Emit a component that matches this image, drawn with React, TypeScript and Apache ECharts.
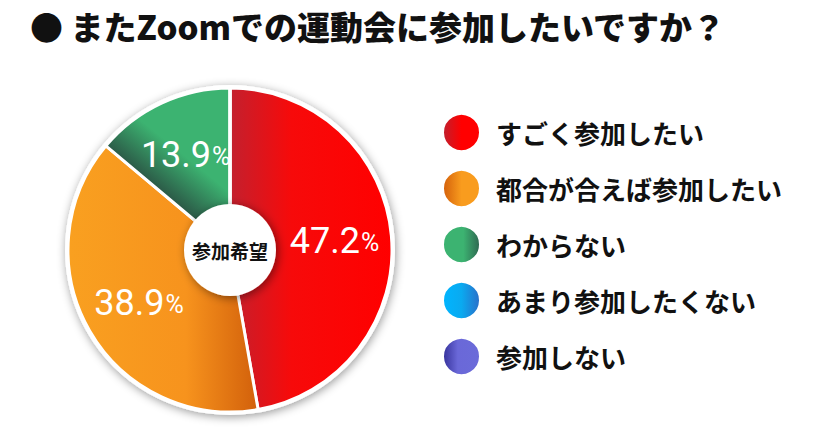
import { useEffect, useRef } from "react";
import * as echarts from "echarts";

const TITLE = "● またZoomでの運動会に参加したいですか？";
const CENTER_LABEL = "参加希望";
const categories = [
  "すごく参加したい",
  "都合が合えば参加したい",
  "わからない",
  "あまり参加したくない",
  "参加しない",
];
// 回答数（17 / 14 / 5 / 0 / 0 → 47.2% / 38.9% / 13.9%）
const counts = [17, 14, 5, 0, 0];

const JP = '"Noto Sans CJK JP", "Noto Sans", sans-serif';

function lin(x: number, y: number, x2: number, y2: number, stops: [number, string][]) {
  return new echarts.graphic.LinearGradient(
    x,
    y,
    x2,
    y2,
    stops.map(([offset, color]) => ({ offset, color }))
  );
}

// 扇形用グラデーション
const sliceColors = [
  lin(0, 0, 1, 0, [
    [0, "#c3202e"],
    [0.38, "#f70a0a"],
    [1, "#ff0000"],
  ]),
  lin(0, 0, 1, 0, [
    [0, "#f9a020"],
    [0.62, "#f7931d"],
    [1, "#d2600b"],
  ]),
  {
    type: "linear",
    x: 154,
    y: 184,
    x2: 180,
    y2: 152,
    global: true,
    colorStops: [
      { offset: 0, color: "#2c5c48" },
      { offset: 1, color: "#3cb371" },
    ],
  },
  lin(0, 0, 1, 0, [
    [0, "#00b5ff"],
    [1, "#2a6ec8"],
  ]),
  lin(0, 0, 1, 0, [
    [0, "#35319a"],
    [1, "#6b6bd9"],
  ]),
];

// 凡例アイコン用グラデーション
const legendColors = [
  lin(0, 0, 1, 0, [
    [0, "#c0202e"],
    [0.5, "#ff0000"],
    [1, "#ff0000"],
  ]),
  lin(0, 0, 1, 0, [
    [0, "#d35f0a"],
    [0.5, "#f99c1e"],
    [1, "#f99c1e"],
  ]),
  lin(0, 0, 1, 0, [
    [0, "#3cb371"],
    [0.55, "#3cb371"],
    [1, "#2e6650"],
  ]),
  lin(0, 0, 1, 0, [
    [0, "#00b5ff"],
    [0.5, "#0aaaf0"],
    [1, "#2a6ec8"],
  ]),
  lin(0, 0, 1, 0, [
    [0, "#35319a"],
    [0.4, "#6a68d8"],
    [1, "#6b6bd9"],
  ]),
];

function buildOption(): echarts.EChartsOption {
  const center = [230, 250];
  return {
    animation: false,
    backgroundColor: "#ffffff",
    title: {
      text: TITLE,
      left: 25,
      top: 4,
      textStyle: {
        fontFamily: JP,
        fontSize: 33,
        fontWeight: 900,
        color: "#111111",
      },
    },
    legend: {
      orient: "vertical",
      left: 437,
      top: 108,
      icon: "circle",
      itemWidth: 37,
      itemHeight: 37,
      itemGap: 17,
      selectedMode: false,
      textStyle: {
        fontFamily: JP,
        fontSize: 26,
        fontWeight: "bold",
        color: "#111111",
        padding: [0, 0, 0, 11],
      },
      data: categories.map((name, i) => ({
        name,
        itemStyle: { color: legendColors[i] as any },
      })),
    },
    series: [
      {
        // 外周の影
        type: "pie",
        silent: true,
        center,
        radius: 165,
        label: { show: false },
        labelLine: { show: false },
        itemStyle: {
          color: "#ffffff",
          shadowBlur: 10,
          shadowColor: "rgba(0,0,0,0.4)",
          shadowOffsetX: 1,
          shadowOffsetY: 2,
        },
        data: [{ name: "", value: 1 }],
        z: 1,
      },
      {
        type: "pie",
        center,
        radius: [42, 162],
        startAngle: 90,
        clockwise: true,
        percentPrecision: 1,
        avoidLabelOverlap: false,
        itemStyle: { borderColor: "#ffffff", borderWidth: 3 },
        label: {
          position: "inside",
          formatter: (p: any) =>
            p.value ? `{n|${p.percent.toFixed(1)}}{u|%}` : "",
          rich: {
            n: {
              fontFamily: "Roboto, sans-serif",
              fontSize: 36,
              fontWeight: 400,
              color: "#ffffff",
            },
            u: {
              fontFamily: "Roboto, sans-serif",
              fontSize: 25,
              fontWeight: 400,
              color: "#ffffff",
              padding: [4, 0, 0, 1],
            },
          },
        },
        labelLine: { show: false },
        emphasis: { disabled: true },
        data: categories.map((name, i) => ({
          name,
          value: counts[i],
          itemStyle: { color: sliceColors[i] as any },
        })),
        z: 2,
      },
      {
        // 中央の白丸
        type: "pie",
        silent: true,
        center,
        radius: 46,
        label: {
          show: true,
          position: "center",
          formatter: CENTER_LABEL,
          fontFamily: JP,
          fontSize: 19,
          fontWeight: "bold",
          color: "#111111",
        },
        labelLine: { show: false },
        itemStyle: {
          color: "#ffffff",
          shadowBlur: 10,
          shadowColor: "rgba(0,0,0,0.45)",
          shadowOffsetX: 2,
          shadowOffsetY: 2,
        },
        data: [{ name: CENTER_LABEL, value: 1 }],
        z: 3,
      },
    ],
  };
}

export default function App() {
  const ref = useRef<HTMLDivElement | null>(null);

  useEffect(() => {
    const el = ref.current;
    if (!el) return;
    const chart = echarts.init(el, undefined, { renderer: "svg" });
    chart.setOption(buildOption());
    return () => {
      chart.dispose();
    };
  }, []);

  return (
    <div
      ref={ref}
      style={{ position: "absolute", left: 0, top: 0, width: 840, height: 430 }}
    />
  );
}
